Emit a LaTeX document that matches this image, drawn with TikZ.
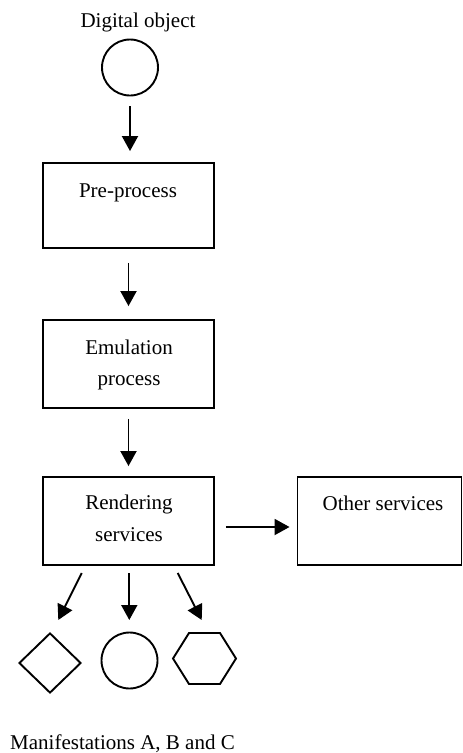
\documentclass[tikz,border=0pt]{standalone}
\usepackage{fontspec}
\setmainfont{Liberation Serif}
\usetikzlibrary{arrows.meta,shapes.geometric}
\begin{document}
\begin{tikzpicture}[x=1pt,y=-1pt,
  every node/.style={font=\fontsize{21}{32}\selectfont},
  txt/.style={anchor=base,inner sep=0pt},
  boxnode/.style={draw,line width=1.9pt,rectangle,inner sep=0pt},
  shapenode/.style={draw,line width=1.9pt,inner sep=0pt},
  arr/.style={line width=1.9pt,-{Triangle[length=15pt,width=16pt]}}]
\useasboundingbox (0,0) rectangle (463,753);
% top
\node[txt] (tDig) at (138,27) {Digital object};
\node[shapenode,circle,minimum size=56pt] (obj) at (130,67.5) {};
% boxes
\node[boxnode,minimum width=171pt,minimum height=85pt] (pre) at (128.5,205.5) {};
\node[txt] (tPre) at (128,197) {Pre-process};
\node[boxnode,minimum width=171pt,minimum height=88pt] (emu) at (128.5,364) {};
\node[txt] (tEmu1) at (129,354) {Emulation};
\node[txt] (tEmu2) at (129,385) {process};
\node[boxnode,minimum width=171pt,minimum height=88pt] (ren) at (128.5,521) {};
\node[txt] (tRen1) at (129,509) {Rendering};
\node[txt] (tRen2) at (129,541) {services};
\node[boxnode,minimum width=164pt,minimum height=88pt] (oth) at (379.5,521) {};
\node[txt] (tOth) at (383,510) {Other services};
% manifestations
\node[shapenode,diamond,minimum width=62pt,minimum height=60pt] (mA) at (50,663) {};
\node[shapenode,circle,minimum size=56pt] (mB) at (129.5,660.5) {};
\coordinate (mC) at (204.5,658.5);
\draw[line width=1.9pt,line join=miter] (173,658.5) -- (189,633) -- (220,633) -- (236,658.5) -- (220,684) -- (189,684) -- cycle;
\node[txt] (tMan) at (122.5,749) {Manifestations A, B and C};
% connectors
\draw[arr,shorten <=10pt,shorten >=11pt] (obj) -- (obj |- pre.north);
\draw[arr,shorten <=14pt,shorten >=13pt] (pre) -- (emu);
\draw[arr,shorten <=10pt,shorten >=10pt] (emu) -- (ren);
\draw[arr,shorten <=11pt,shorten >=7pt] ([yshift=-6pt]ren.east) -- ([yshift=-6pt]oth.west);
\coordinate (sA) at (81.7,573);
\coordinate (eA) at (58.3,620);
\coordinate (sB) at (129.3,573);
\coordinate (eB) at (129.3,620);
\coordinate (sC) at (177.7,573);
\coordinate (eC) at (201.7,620);
\draw[arr] (sA) -- (eA);
\draw[arr] (sB) -- (eB);
\draw[arr] (sC) -- (eC);
\end{tikzpicture}
\end{document}
